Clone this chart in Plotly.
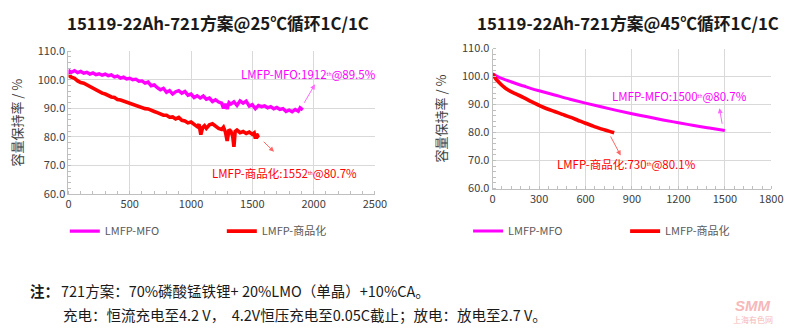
import plotly.graph_objects as go

# ---------------- data ----------------
# 25°C chart
mfo25_cycles = [0, 10, 25, 50, 75, 100, 125, 150, 175, 200, 225, 250, 275, 300, 325, 350, 375, 400, 425, 450,
                475, 500, 525, 550, 575, 600, 625, 650, 675, 700, 725, 750, 775, 800, 825, 850, 875, 900, 925, 950,
                975, 1000, 1025, 1050, 1075, 1100, 1125, 1150, 1175, 1200, 1225, 1250, 1265, 1280, 1295, 1310, 1325,
                1350, 1375, 1400, 1425, 1450, 1475, 1500, 1525, 1550, 1575, 1600, 1625, 1650, 1675, 1700, 1725, 1750,
                1775, 1800, 1825, 1850, 1875, 1890, 1912]
mfo25_values = [102.0, 103.0, 102.6, 103.2, 102.5, 102.9, 102.3, 102.6, 102.0, 102.4, 101.8, 102.1, 101.6, 102.0,
                101.4, 101.7, 101.0, 101.3, 100.6, 100.9, 100.3, 100.5, 100.0, 100.2, 99.5, 99.6, 98.8, 99.2, 97.9,
                98.2, 97.2, 96.5, 97.0, 95.6, 96.2, 95.0, 95.8, 96.2, 95.3, 95.9, 94.6, 95.0, 93.8, 94.4, 93.6, 94.3,
                93.2, 93.6, 92.4, 93.0, 92.2, 91.8, 90.0, 91.6, 89.8, 92.0, 91.5, 92.3, 91.0, 92.6, 91.8, 92.5, 90.8,
                91.3, 89.9, 91.0, 90.6, 90.9, 90.2, 90.6, 89.8, 90.3, 89.6, 89.9, 88.9, 89.4, 88.8, 89.6, 89.0, 90.2,
                89.5]
com25_cycles = [0, 10, 25, 50, 75, 100, 125, 150, 175, 200, 225, 250, 275, 300, 325, 350, 375, 400, 425, 450, 475,
                500, 525, 550, 575, 600, 625, 650, 675, 700, 725, 750, 775, 800, 825, 850, 875, 900, 925, 950, 975,
                1000, 1025, 1050, 1065, 1080, 1095, 1110, 1125, 1150, 1175, 1200, 1225, 1250, 1265, 1280, 1295, 1310,
                1325, 1340, 1350, 1360, 1375, 1400, 1425, 1450, 1475, 1500, 1515, 1525, 1535, 1545, 1552]
com25_values = [100.8, 101.5, 100.9, 100.5, 99.6, 99.0, 98.8, 98.2, 97.6, 96.9, 96.4, 95.8, 95.3, 95.0, 94.4, 94.0,
                93.8, 93.1, 92.9, 92.5, 92.0, 91.6, 91.3, 90.9, 90.6, 90.3, 89.9, 89.8, 89.2, 88.9, 88.5, 88.0, 87.6,
                87.6, 86.9, 87.0, 86.3, 86.8, 85.8, 85.6, 84.9, 85.2, 84.3, 83.6, 84.4, 80.8, 83.3, 83.9, 83.0, 84.2,
                84.6, 83.8, 83.0, 82.6, 83.4, 81.8, 78.6, 82.6, 82.0, 80.2, 76.5, 81.9, 82.4, 81.5, 81.9, 81.2, 81.7,
                80.9, 81.4, 79.4, 81.0, 80.3, 80.7]

# 45°C chart
mfo45_cycles = [0, 25, 50, 100, 150, 200, 250, 300, 400, 500, 600, 700, 800, 900, 1000, 1100, 1200, 1300, 1400, 1500]
mfo45_values = [101.0, 100.2, 99.5, 98.5, 97.5, 96.6, 95.7, 94.9, 93.4, 91.9, 90.5, 89.2, 87.9, 86.7, 85.6, 84.5,
                83.5, 82.5, 81.6, 80.7]
com45_cycles = [0, 10, 20, 40, 70, 100, 150, 200, 250, 300, 350, 400, 450, 500, 550, 600, 650, 700, 750, 785]
com45_values = [101.0, 100.0, 99.2, 98.0, 96.4, 95.2, 93.8, 92.5, 91.0, 89.7, 88.5, 87.5, 86.5, 85.5, 84.4, 83.3,
                82.3, 81.3, 80.5, 79.9]

series_names = ["LMFP-MFO", "LMFP-商品化"]
series_colors = ["#FF00FF", "#FF0000"]
titles = ["15119-22Ah-721方案@25℃循环1C/1C", "15119-22Ah-721方案@45℃循环1C/1C"]
y_title = "容量保持率 / %"
y_ticks = [60, 70, 80, 90, 100, 110]
x_ticks_25 = [0, 500, 1000, 1500, 2000, 2500]
x_ticks_45 = [0, 300, 600, 900, 1200, 1500, 1800]
TH = "<span style='font-size:7px'><sup>th</sup></span>"
labels_25 = ["LMFP-MFO:1912" + TH + "@89.5%", "LMFP-商品化:1552" + TH + "@80.7%"]
labels_45 = ["LMFP-MFO:1500" + TH + "@80.7%", "LMFP-商品化:730" + TH + "@80.1%"]
note_line1 = "721方案：70%磷酸锰铁锂+ 20%LMO（单晶）+10%CA。"
note_line2 = "充电：恒流充电至4.2 V，  4.2V恒压充电至0.05C截止；放电：放电至2.7 V。"

FONT = "Noto Sans CJK SC, Noto Sans, sans-serif"
W, H = 800, 336

fig = go.Figure()

fig.add_trace(go.Scatter(x=mfo25_cycles, y=mfo25_values, mode="lines", name=series_names[0],
                         line=dict(color=series_colors[0], width=3.4), xaxis="x", yaxis="y", legend="legend"))
fig.add_trace(go.Scatter(x=com25_cycles, y=com25_values, mode="lines", name=series_names[1],
                         line=dict(color=series_colors[1], width=3.6), xaxis="x", yaxis="y", legend="legend"))
fig.add_trace(go.Scatter(x=mfo45_cycles, y=mfo45_values, mode="lines", name=series_names[0],
                         line=dict(color=series_colors[0], width=3, shape="spline"), xaxis="x2", yaxis="y2",
                         legend="legend2"))
fig.add_trace(go.Scatter(x=com45_cycles, y=com45_values, mode="lines", name=series_names[1],
                         line=dict(color=series_colors[1], width=3.6, shape="spline"), xaxis="x2", yaxis="y2",
                         legend="legend2"))

grid = "#D9D9D9"
axcol = "#BFBFBF"
tickfont = dict(family=FONT, size=11, color="#404040")


def xaxis(domain, rng, ticks, minor_dt, anchor):
    return dict(domain=domain, range=rng, tickvals=ticks, showgrid=True, gridcolor=grid, gridwidth=1,
                zeroline=False, showline=True, linecolor=axcol, linewidth=1, ticks="", tickfont=tickfont,
                anchor=anchor, fixedrange=True,
                minor=dict(dtick=minor_dt, ticks="inside", ticklen=3, tickcolor=axcol, showgrid=False))


def yaxis(domain, anchor):
    return dict(domain=domain, range=[60, 110], tickvals=y_ticks, tickformat=".1f", showgrid=True,
                gridcolor=grid, gridwidth=1, zeroline=False, showline=True, linecolor=axcol, linewidth=1,
                ticks="", tickfont=tickfont, anchor=anchor, fixedrange=True,
                title=dict(text=y_title, font=dict(family=FONT, size=13, color="#404040"), standoff=12),
                minor=dict(dtick=2, ticks="inside", ticklen=3, tickcolor=axcol, showgrid=False))


fig.update_layout(
    width=W, height=H, margin=dict(l=0, r=0, t=0, b=0),
    paper_bgcolor="white", plot_bgcolor="white",
    font=dict(family=FONT, color="#404040"),
    xaxis=xaxis([66.7 / W, 379 / W], [0, 2500], x_ticks_25, 100, "y"),
    yaxis=yaxis([1 - 194.3 / H, 1 - 44.3 / H], "x"),
    xaxis2=xaxis([499 / W, 783 / W], [0, 1800], x_ticks_45, 60, "y2"),
    yaxis2=yaxis([1 - 188.5 / H, 1 - 41.5 / H], "x2"),
    legend=dict(orientation="h", x=63 / W, y=1 - 218 / H, xanchor="left", yanchor="top",
                entrywidth=112, font=dict(family=FONT, size=11, color="#595959"), bgcolor="rgba(0,0,0,0)",
                itemclick=False),
    legend2=dict(orientation="h", x=474 / W, y=1 - 218 / H, xanchor="left", yanchor="top",
                 entrywidth=112, font=dict(family=FONT, size=11, color="#595959"), bgcolor="rgba(0,0,0,0)",
                 itemclick=False),
)

ann = []
# titles
for t, cx in zip(titles, [219, 637]):
    ann.append(dict(text="<b>" + t + "</b>", x=cx / W, y=1, xref="paper", yref="paper",
                    xanchor="center", yanchor="top", showarrow=False,
                    font=dict(family=FONT, size=16.8, color="#1a1a1a")))

# series labels and arrows (data coordinates)
lab_font_m = dict(family=FONT, size=11.5, color=series_colors[0])
lab_font_r = dict(family=FONT, size=11.5, color=series_colors[1])
ann.append(dict(text=labels_25[0], x=1960, y=101.9, xref="x", yref="y", showarrow=False, font=lab_font_m))
ann.append(dict(text="", x=2011, y=98.4, ax=1916, ay=91.4, xref="x", yref="y", axref="x", ayref="y",
                showarrow=True, arrowhead=2, arrowsize=1, arrowwidth=1, arrowcolor="#FF66FF"))
ann.append(dict(text=labels_25[1], x=1766, y=67.4, xref="x", yref="y", showarrow=False, font=lab_font_r))
ann.append(dict(text="", x=1677, y=74.8, ax=1581, ay=78.8, xref="x", yref="y", axref="x", ayref="y",
                showarrow=True, arrowhead=2, arrowsize=1, arrowwidth=1, arrowcolor="#FF6666"))
ann.append(dict(text=labels_45[0], x=1205, y=93.2, xref="x2", yref="y2", showarrow=False, font=lab_font_m))
ann.append(dict(text="", x=1465, y=88.7, ax=1484, ay=82.6, xref="x2", yref="y2", axref="x2", ayref="y2",
                showarrow=True, arrowhead=2, arrowsize=1, arrowwidth=1, arrowcolor="#FF66FF"))
ann.append(dict(text=labels_45[1], x=863, y=68.9, xref="x2", yref="y2", showarrow=False, font=lab_font_r))
ann.append(dict(text="", x=827, y=71.8, ax=757, ay=79.1, xref="x2", yref="y2", axref="x2", ayref="y2",
                showarrow=True, arrowhead=2, arrowsize=1, arrowwidth=1, arrowcolor="#FF6666"))

# notes
note_font = dict(family=FONT, size=14.5, color="#1a1a1a")
ann.append(dict(text="<b>注：</b>", x=25 / W, y=1 - 296 / H, xref="paper", yref="paper", xanchor="left",
                yanchor="middle", showarrow=False, font=note_font))
ann.append(dict(text=note_line1, x=57 / W, y=1 - 296 / H, xref="paper", yref="paper", xanchor="left",
                yanchor="middle", showarrow=False, font=note_font))
ann.append(dict(text=note_line2, x=59 / W, y=1 - 321 / H, xref="paper", yref="paper", xanchor="left",
                yanchor="middle", showarrow=False, font=note_font))

# watermark
ann.append(dict(text="<b><i>SMM</i></b>", x=764 / W, y=1 - 311 / H, xref="paper", yref="paper",
                xanchor="center", yanchor="middle",
                showarrow=False, font=dict(family="Liberation Sans, sans-serif", size=15, color="#F6B8B8")))
ann.append(dict(text="上海有色网", x=764 / W, y=1 - 326 / H, xref="paper", yref="paper",
                xanchor="center", yanchor="middle",
                showarrow=False, font=dict(family=FONT, size=8, color="#F6B8B8")))

fig.update_layout(annotations=ann)

fig.write_html("out.html")
